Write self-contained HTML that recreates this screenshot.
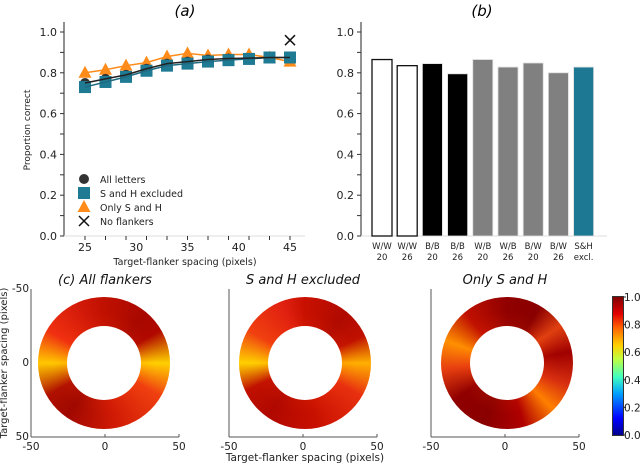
<!DOCTYPE html>
<html><head><meta charset="utf-8"><style>
body{margin:0;background:#fff;width:640px;height:464px;overflow:hidden;font-family:"DejaVu Sans","Liberation Sans",sans-serif}
.ring{position:absolute;border-radius:50%}
</style></head><body>
<svg id="topsvg" width="640" height="270" style="position:absolute;left:0;top:0" font-family="DejaVu Sans, Liberation Sans, sans-serif"></svg>
<div id="rings" style="position:absolute;left:0;top:0;width:640px;height:464px"></div>
<svg id="bot" width="640" height="464" style="position:absolute;left:0;top:0" font-family="DejaVu Sans, Liberation Sans, sans-serif"></svg>
<script>
const spacing=[25,27,29,31,33,35,37,39,41,43,45];
const allLetters=[0.75,0.77,0.79,0.82,0.845,0.855,0.865,0.87,0.872,0.875,0.875];
const shExcluded=[0.73,0.755,0.78,0.81,0.835,0.845,0.855,0.862,0.868,0.875,0.875];
const onlySH=[0.80,0.815,0.835,0.85,0.88,0.895,0.885,0.89,0.89,0.875,0.855];
const noFlankX=[45];const noFlankY=[0.96];
const barCats=[["W/W","20"],["W/W","26"],["B/B","20"],["B/B","26"],["W/B","20"],["W/B","26"],["B/W","20"],["B/W","26"],["S&H","excl."]];
const barVals=[0.865,0.835,0.845,0.795,0.865,0.828,0.848,0.80,0.828];
const yTicks=[0,0.2,0.4,0.6,0.8,1.0];
const xTicks=[25,30,35,40,45];
const NS="http://www.w3.org/2000/svg";
function mk(p,t,a,txt){const e=document.createElementNS(NS,t);for(const k in a)e.setAttribute(k,a[k]);if(txt!=null)e.textContent=txt;p.appendChild(e);return e;}
const topSvg=document.getElementById('topsvg');
const Y=v=>236-v*204;
const XA=v=>85+(v-25)*(205/20);
let g=mk(topSvg,'g',{});
mk(g,'text',{x:185,y:16,'font-size':15,'text-anchor':'middle','font-style':'italic'},'(a)');
mk(g,'line',{x1:64,y1:22,x2:64,y2:236,stroke:'#222'});
mk(g,'line',{x1:64,y1:236,x2:305,y2:236,stroke:'#ddd'});
for(let v=0;v<=1.01;v+=0.1){mk(g,'line',{x1:60,x2:64,y1:Y(v),y2:Y(v),stroke:'#333'});}
yTicks.forEach(v=>{const t=mk(g,'text',{x:57,y:Y(v)+4,'font-size':11,'text-anchor':'end',fill:'#222'},v.toFixed(1));});
spacing.forEach(v=>mk(g,'line',{x1:XA(v),x2:XA(v),y1:236,y2:240,stroke:'#333'}));
xTicks.forEach(v=>{const t=mk(g,'text',{x:XA(v),y:251,'font-size':11,'text-anchor':'middle',fill:'#222'},v);});
mk(g,'text',{x:185,y:265,'font-size':9.5,'text-anchor':'middle',fill:'#222'},'Target-flanker spacing (pixels)');
mk(g,'text',{x:0,y:0,'font-size':9,'text-anchor':'middle',fill:'#222',transform:'translate(30,130) rotate(-90)'},'Proportion correct');
function poly(d,col){return mk(g,'polyline',{points:spacing.map((s,i)=>XA(s)+','+Y(d[i])).join(' '),fill:'none',stroke:col,'stroke-width':1.5});}
let l=poly(onlySH,'#ff8c1a');
spacing.forEach((s,i)=>{const x=XA(s),y=Y(onlySH[i]);const p=mk(g,'polygon',{points:`${x},${y-7} ${x-6.5},${y+5} ${x+6.5},${y+5}`,fill:'#ff8c1a'});});
spacing.forEach((s,i)=>{const c=mk(g,'circle',{cx:XA(s),cy:Y(allLetters[i]),r:5,fill:'#333'});});
spacing.forEach((s,i)=>{const r=mk(g,'rect',{x:XA(s)-6,y:Y(shExcluded[i])-6,width:12,height:12,fill:'#1f7a94'});});
l=poly(shExcluded,'#1f6a80');
l=poly(allLetters,'#222');
noFlankX.forEach((s,i)=>{const x=XA(s),y=Y(noFlankY[i]);const p=mk(g,'path',{d:`M${x-5},${y-5}L${x+5},${y+5}M${x+5},${y-5}L${x-5},${y+5}`,stroke:'#111','stroke-width':1.5});});
const lg=mk(g,'g',{});
mk(lg,'circle',{cx:84,cy:179,r:5,fill:'#333'});mk(lg,'text',{x:100,y:183,'font-size':9.5,fill:'#222'},'All letters');
mk(lg,'rect',{x:78,y:187,width:12,height:12,fill:'#1f7a94'});mk(lg,'text',{x:100,y:197,'font-size':9.5,fill:'#222'},'S and H excluded');
mk(lg,'polygon',{points:'84,200 77.5,212 90.5,212',fill:'#ff8c1a'});mk(lg,'text',{x:100,y:211,'font-size':9.5,fill:'#222'},'Only S and H');
mk(lg,'path',{d:'M79,216L89,226M89,216L79,226',stroke:'#111','stroke-width':1.5});mk(lg,'text',{x:100,y:225,'font-size':9.5,fill:'#222'},'No flankers');
g=mk(topSvg,'g',{});
mk(g,'text',{x:482,y:16,'font-size':15,'text-anchor':'middle','font-style':'italic'},'(b)');
mk(g,'line',{x1:361,y1:22,x2:361,y2:236,stroke:'#222'});
mk(g,'line',{x1:361,y1:236,x2:607,y2:236,stroke:'#ddd'});
for(let v=0;v<=1.01;v+=0.1){mk(g,'line',{x1:357,x2:361,y1:Y(v),y2:Y(v),stroke:'#333'});}
yTicks.forEach(v=>{mk(g,'text',{x:354,y:Y(v)+4,'font-size':11,'text-anchor':'end',fill:'#222'},v.toFixed(1));});
const fills=['#fff','#fff','#000','#000','#808080','#808080','#808080','#808080','#1c7893'];
barCats.forEach((c,i)=>{const cx=382+i*25.2;const b=mk(g,'rect',{x:cx-10,y:Y(barVals[i]),width:20,height:236-Y(barVals[i]),fill:fills[i],stroke:i<2?'#111':'#ddd','stroke-width':i<2?1.3:0.8});
mk(g,'text',{x:cx,y:249,'font-size':8.5,'text-anchor':'middle',fill:'#222'},c[0]);mk(g,'text',{x:cx,y:260,'font-size':8.5,'text-anchor':'middle',fill:'#222'},c[1]);});
const rings=document.getElementById('rings');
const specs=[
 {cx:104,bg:'conic-gradient(from 0deg,#c01000 0deg,#a80800 40deg,#b00800 60deg,#ffd000 90deg,#f04010 120deg,#d01a05 170deg,#a00800 215deg,#b01000 240deg,#ffc800 270deg,#f03010 300deg,#d01808 340deg,#c01000 360deg)',name:'ring-all-flankers'},
 {cx:305,bg:'conic-gradient(from 0deg,#c81000 0deg,#b00a00 40deg,#c01000 65deg,#ffb000 90deg,#e83010 120deg,#c81000 170deg,#b00800 215deg,#c01000 245deg,#ffd000 270deg,#f04010 300deg,#e02010 340deg,#c81000 360deg)',name:'ring-sh-excluded'},
 {cx:507,bg:'conic-gradient(from 0deg,#900000 0deg,#8a0000 30deg,#e04010 55deg,#a00000 80deg,#d83010 110deg,#ff8000 135deg,#b00000 165deg,#8a0000 200deg,#900000 235deg,#e84010 265deg,#ff9000 290deg,#c01000 320deg,#900000 360deg)',name:'ring-only-sh'}];
specs.forEach((s,i)=>{const d=document.createElement('div');d.className='ring';


d.style.cssText=`left:${s.cx-66}px;top:297px;width:132px;height:132px;background:${s.bg}`;
const ov=document.createElement('div');ov.className='ring';ov.style.cssText=`left:0;top:0;width:132px;height:132px;background:radial-gradient(circle,rgba(255,120,0,0.35) 28%,rgba(255,60,0,0.1) 40%,rgba(0,0,0,0) 55%)`;d.appendChild(ov);
const h=document.createElement('div');h.className='ring';h.style.cssText='left:29px;top:29px;width:74px;height:74px;background:#fff';d.appendChild(h);
rings.appendChild(d);});
const cb=document.createElement('div');


cb.style.cssText='position:absolute;left:613px;top:297px;width:10px;height:138px;background:linear-gradient(to top,#00008f,#0000ff 12%,#00a0ff 30%,#40ffc0 42%,#c0ff40 55%,#ffd000 65%,#ff6000 78%,#e00000 88%,#800000);outline:1px solid #333';
rings.appendChild(cb);
const bot=document.getElementById('bot');
const titles=['(c) All flankers','S and H excluded','Only S and H'];
[31,229,431].forEach((x0,i)=>{const a=mk(bot,'g',{});
mk(a,'line',{x1:x0,y1:289,x2:x0,y2:437,stroke:'#555'});mk(a,'line',{x1:x0,y1:437,x2:x0+148,y2:437,stroke:'#555'});
[-50,0,50].forEach((v,j)=>{const x=x0+j*74;mk(a,'line',{x1:x,x2:x,y1:437,y2:434,stroke:'#555'});mk(a,'text',{x:x,y:450,'font-size':10.5,'text-anchor':'middle',fill:'#222'},v);});
mk(a,'text',{x:x0+74,y:284,'font-size':13,'text-anchor':'middle','font-style':'italic',fill:'#111'},titles[i]);});
[-50,0,50].forEach((v,j)=>{mk(bot,'text',{x:29,y:292+j*74,'font-size':10.5,'text-anchor':'end',fill:'#222'},v);});
mk(bot,'text',{x:305,y:461,'font-size':10.5,'text-anchor':'middle',fill:'#222'},'Target-flanker spacing (pixels)');
mk(bot,'text',{x:0,y:0,'font-size':10,'text-anchor':'middle',fill:'#222',transform:'translate(7,363) rotate(-90)'},'Target-flanker spacing (pixels)');
[0,0.2,0.4,0.6,0.8,1.0].forEach(v=>{const y=435-v*138;mk(bot,'line',{x1:623,x2:626,y1:y,y2:y,stroke:'#333'});mk(bot,'text',{x:624,y:y+4,'font-size':10.5,fill:'#222'},v.toFixed(1));});
</script>
</body></html>
